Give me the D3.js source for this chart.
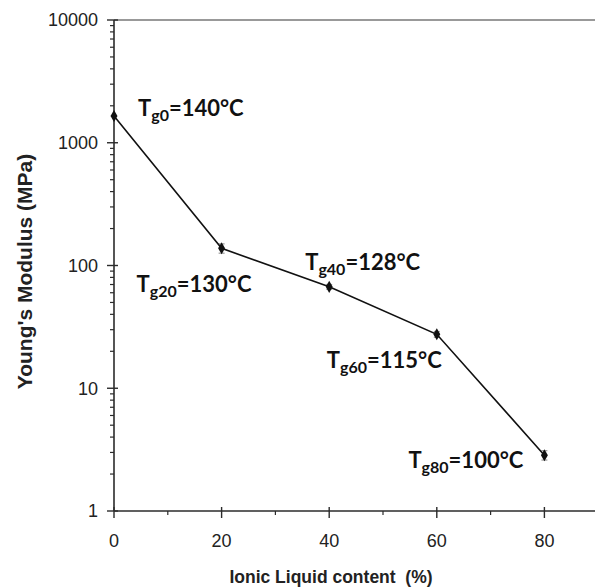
<!DOCTYPE html>
<html>
<head>
<meta charset="utf-8">
<script src="https://cdn.jsdelivr.net/npm/d3@7/dist/d3.min.js"></script>
<style>
  html, body { margin: 0; padding: 0; background: #fff; }
  svg { display: block; }
</style>
</head>
<body>
<svg id="chart" width="595" height="587"></svg>
<script>
// Ionic liquid content (%) and measured Young's modulus (MPa)
const ilContent = [0, 20, 40, 60, 80];
const modulus = [1650, 138, 67, 27.5, 2.85];
const modulusErr = [0, 12, 3, 1.5, 0.25];
// Glass transition temperatures written beside each point
const tgSubscripts = ["g0", "g20", "g40", "g60", "g80"];
const tgValues = [140, 130, 128, 115, 100];
// Axis ticks
const xMajorTicks = [0, 20, 40, 60, 80];
const xMinorTicks = [10, 30, 50, 70, 90];
const yMajorTicks = [1, 10, 100, 1000, 10000];

// Label placement relative to its point (layout only)
const labelOffsets = [[24, 0], [-85, 44], [-24, -17], [-110, 34], [-136, 13]];

const svg = d3.select("#chart");
const plotLeft = 114, plotBottom = 511, plotTop = 20, plotRight = 652;

const x = d3.scaleLinear().domain([0, 100]).range([plotLeft, plotRight]);
const y = d3.scaleLog().domain([1, 10000]).range([plotBottom, plotTop]);

const axisColor = "#2b2b2b";
const tickFont = "Liberation Sans, Arial, sans-serif";

// Frame: top border and axes
svg.append("line").attr("x1", plotLeft).attr("x2", plotRight).attr("y1", plotTop).attr("y2", plotTop)
  .attr("stroke", "#777").attr("stroke-width", 1.6);

// Y axis (log)
const yMinor = [];
for (let d = 1; d < 10000; d *= 10) for (let k = 2; k <= 9; k++) yMinor.push(d * k);
const gy = svg.append("g");
gy.append("line").attr("x1", plotLeft).attr("x2", plotLeft).attr("y1", plotTop).attr("y2", plotBottom)
  .attr("stroke", axisColor).attr("stroke-width", 1.6);
gy.selectAll("line.minor").data(yMinor).join("line").attr("class", "minor")
  .attr("x1", plotLeft - 4).attr("x2", plotLeft).attr("y1", d => y(d)).attr("y2", d => y(d))
  .attr("stroke", axisColor).attr("stroke-width", 1.2);
gy.selectAll("line.major").data(yMajorTicks).join("line").attr("class", "major")
  .attr("x1", plotLeft - 7).attr("x2", plotLeft + 4).attr("y1", d => y(d)).attr("y2", d => y(d))
  .attr("stroke", axisColor).attr("stroke-width", 1.4);
gy.selectAll("text").data(yMajorTicks).join("text")
  .attr("x", plotLeft - 16).attr("y", d => y(d)).attr("dy", "0.36em")
  .attr("text-anchor", "end").attr("font-family", tickFont).attr("font-size", 18)
  .attr("fill", "#222").text(d => d3.format("d")(d));

// X axis
const gx = svg.append("g");
gx.append("line").attr("x1", plotLeft).attr("x2", plotRight).attr("y1", plotBottom).attr("y2", plotBottom)
  .attr("stroke", axisColor).attr("stroke-width", 1.6);
gx.selectAll("line.major").data(xMajorTicks).join("line").attr("class", "major")
  .attr("x1", d => x(d)).attr("x2", d => x(d)).attr("y1", plotBottom - 4).attr("y2", plotBottom + 7)
  .attr("stroke", axisColor).attr("stroke-width", 1.4);
gx.selectAll("line.minor").data(xMinorTicks).join("line").attr("class", "minor")
  .attr("x1", d => x(d)).attr("x2", d => x(d)).attr("y1", plotBottom).attr("y2", plotBottom + 4)
  .attr("stroke", axisColor).attr("stroke-width", 1.2);
gx.selectAll("text").data(xMajorTicks).join("text")
  .attr("x", d => x(d)).attr("y", plotBottom + 36)
  .attr("text-anchor", "middle").attr("font-family", tickFont).attr("font-size", 18)
  .attr("fill", "#222").text(d => d);

// Axis titles
svg.append("text")
  .attr("transform", `translate(32,${(plotTop + plotBottom) / 2 + 6}) rotate(-90)`)
  .attr("text-anchor", "middle").attr("font-family", tickFont).attr("font-weight", "bold")
  .attr("font-size", 21).attr("fill", "#222").text("Young's Modulus (MPa)");
svg.append("text")
  .attr("x", 331).attr("y", 583)
  .attr("text-anchor", "middle").attr("font-family", tickFont).attr("font-weight", "bold")
  .attr("font-size", 17.5).attr("fill", "#222").attr("xml:space", "preserve")
  .text("Ionic Liquid content  (%)");

// Data
const pts = ilContent.map((c, i) => ({ c, v: modulus[i], e: modulusErr[i], sub: tgSubscripts[i], tg: tgValues[i], off: labelOffsets[i] }));

// Error bars
svg.selectAll("g.err").data(pts.filter(p => p.e > 0)).join("g").attr("class", "err")
  .each(function (p) {
    const g = d3.select(this);
    g.append("line").attr("x1", x(p.c)).attr("x2", x(p.c)).attr("y1", y(p.v - p.e)).attr("y2", y(p.v + p.e))
      .attr("stroke", "#999").attr("stroke-width", 1.2);
    [p.v - p.e, p.v + p.e].forEach(v => g.append("line")
      .attr("x1", x(p.c) - 3).attr("x2", x(p.c) + 3).attr("y1", y(v)).attr("y2", y(v))
      .attr("stroke", "#999").attr("stroke-width", 1.2));
  });

svg.append("path").datum(pts)
  .attr("d", d3.line().x(p => x(p.c)).y(p => y(p.v)))
  .attr("fill", "none").attr("stroke", "#111").attr("stroke-width", 1.6);

svg.selectAll("path.pt").data(pts).join("path").attr("class", "pt")
  .attr("transform", p => `translate(${x(p.c)},${y(p.v)})`)
  .attr("d", d3.symbol().type(d3.symbolDiamond).size(42))
  .attr("fill", "#111");

// Tg annotations
const labelFont = "Lato, 'Open Sans', sans-serif";
pts.forEach(p => {
  const t = svg.append("text")
    .attr("x", x(p.c) + p.off[0]).attr("y", y(p.v) + p.off[1])
    .attr("font-family", labelFont).attr("font-weight", "bold")
    .attr("font-size", 22).attr("fill", "#111");
  t.append("tspan").text("T");
  t.append("tspan").attr("font-size", 16).attr("dy", 5).text(p.sub);
  t.append("tspan").attr("dy", -5).text(`=${p.tg}°C`);
});
</script>
</body>
</html>
